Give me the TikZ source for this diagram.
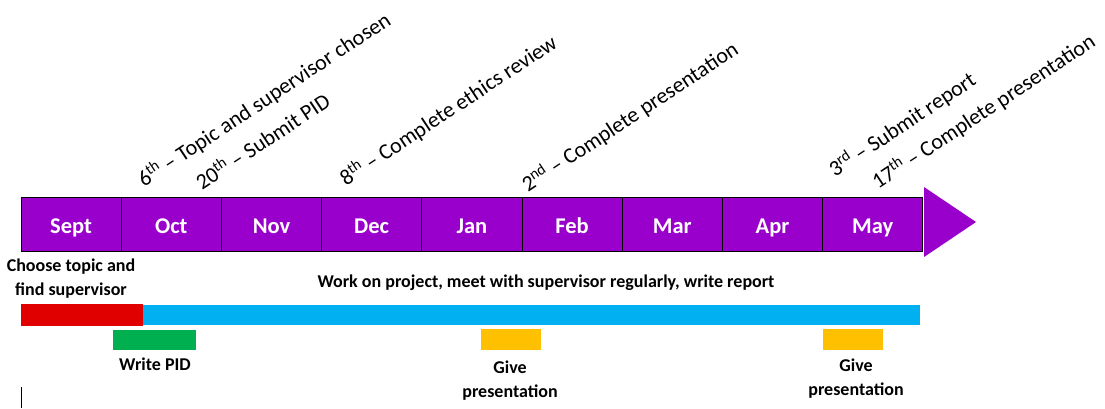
\documentclass[tikz,border=0pt]{standalone}
\usepackage{fontspec}
\setmainfont{Carlito}
\definecolor{mpurple}{RGB}{153,0,204}
\definecolor{mred}{RGB}{224,0,0}
\definecolor{mblue}{RGB}{0,176,240}
\definecolor{mgreen}{RGB}{0,176,80}
\definecolor{myellow}{RGB}{255,192,0}
\tikzset{
  month/.style={draw=black, line width=0.9pt, fill=mpurple, text=white, inner sep=0pt,
    minimum width=100.2pt, minimum height=54pt, text height=18pt, text depth=0pt,
    font=\fontsize{22.5}{26}\selectfont\bfseries},
  milestone/.style={rotate=33.5, anchor=base west, inner sep=0pt, font=\fontsize{22}{26}\selectfont},
  bar/.style={inner sep=0pt, draw=none},
  lbl/.style={align=center, inner sep=0pt, font=\fontsize{18}{24}\selectfont\bfseries}
}
\begin{document}
\begin{tikzpicture}[x=1pt,y=-1pt]
\useasboundingbox (0,0) rectangle (1105,408);
% months
\foreach \m [count=\i from 0] in {Sept,Oct,Nov,Dec,Jan,Feb,Mar,Apr,May}{
  \node[month] (m\i) at ({21+100.2*(\i+0.5)},224) {\m};
}
% arrow head
\fill[mpurple] (924,187) -- (976,222) -- (924,257) -- cycle;
% milestones
\node[milestone] (t1) at (144,188) {6\textsuperscript{th} – Topic and supervisor chosen};
\node[milestone] (t2) at (202,191) {20\textsuperscript{th} – Submit PID};
\node[milestone] (t3) at (346,187) {8\textsuperscript{th} – Complete ethics review};
\node[milestone] (t4) at (528,193) {2\textsuperscript{nd} – Complete presentation};
\node[milestone] (t5) at (835,178) {3\textsuperscript{rd} – Submit report};
\node[milestone] (t6) at (878,190) {17\textsuperscript{th} – Complete presentation};
% bars
\node[bar, fill=mred, minimum width=122pt, minimum height=22pt] (red) at (82,315) {};
\node[bar, fill=mblue, minimum width=777pt, minimum height=20pt] (blue) at (531.5,315) {};
\node[bar, fill=mgreen, minimum width=83pt, minimum height=20pt] (green) at (154.5,340) {};
\node[bar, fill=myellow, minimum width=60pt, minimum height=21pt] (y1) at (511,339.5) {};
\node[bar, fill=myellow, minimum width=60pt, minimum height=21pt] (y2) at (853,339.5) {};
% labels
\node[lbl] (l1) at (71,279) {Choose topic and\\find supervisor};
\node[lbl] (l2) at (546,283) {Work on project, meet with supervisor regularly, write report};
\node[lbl] (l3) at (155,364) {Write PID};
\node[lbl] (l4) at (510,381) {Give\\presentation};
\node[lbl] (l5) at (856,379) {Give\\presentation};
% stray line
\coordinate (s1) at (21,387);
\coordinate (s2) at (21,408);
\draw[line width=0.8pt] (s1) -- (s2);
\end{tikzpicture}
\end{document}
